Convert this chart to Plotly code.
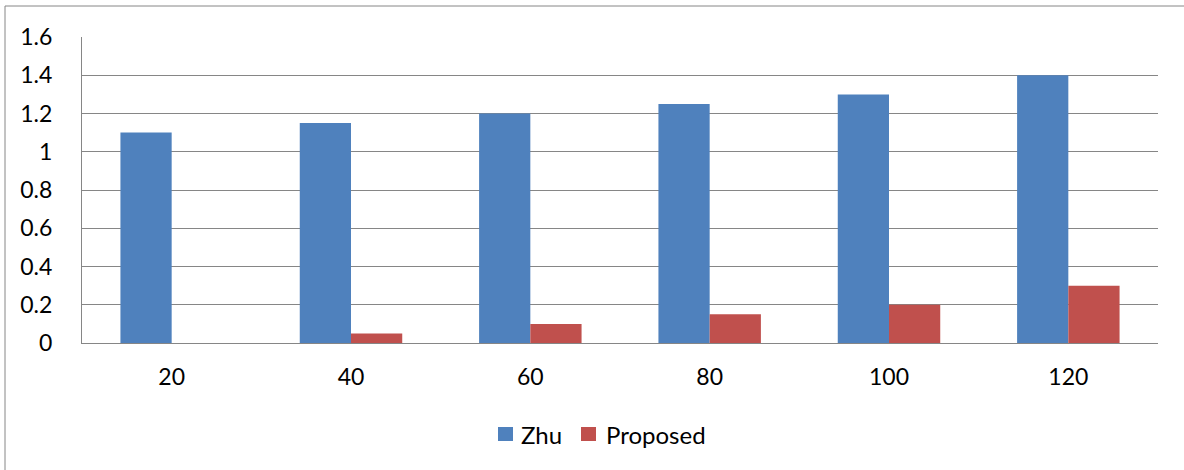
import plotly.graph_objects as go

categories = ["20", "40", "60", "80", "100", "120"]
zhu = [1.1, 1.15, 1.2, 1.25, 1.3, 1.4]
proposed = [0, 0.05, 0.1, 0.15, 0.2, 0.3]
series_names = ["Zhu", "Proposed"]
series_colors = ["#4F81BD", "#C0504D"]

W, H = 1184, 470
L, R, T, B = 82, 26, 37, 127
pw = W - L - R
ph = H - T - B

def px_x(x):
    return (x - L) / pw

def px_y(y):
    return (T + ph - y) / ph

fig = go.Figure()
for name, vals, col in zip(series_names, [zhu, proposed], series_colors):
    fig.add_trace(go.Bar(name=name, x=categories, y=vals, marker=dict(color=col, line=dict(width=0)),
                         showlegend=False))

font = dict(family="Lato, Carlito, Calibri, sans-serif", size=23, color="#000000")
lfont = dict(family="Lato, Carlito, Calibri, sans-serif", size=24, color="#000000")

border = dict(color="#868686", width=1)
shapes = [
    dict(type="line", xref="paper", yref="paper", x0=px_x(5), x1=px_x(W), y0=px_y(6), y1=px_y(6), line=border),
    dict(type="line", xref="paper", yref="paper", x0=px_x(5), x1=px_x(5), y0=px_y(6), y1=px_y(H), line=border),
]
annotations = []
legend_items = [(498, 519), (581, 604)]
for (sq_x, tx_x), name, col in zip(legend_items, series_names, series_colors):
    shapes.append(dict(type="rect", xref="paper", yref="paper",
                       x0=px_x(sq_x), x1=px_x(sq_x + 15), y0=px_y(441), y1=px_y(427),
                       line=dict(width=0), fillcolor=col))
    annotations.append(dict(xref="paper", yref="paper", x=px_x(tx_x), y=px_y(434),
                            xanchor="left", yanchor="middle", text=name, showarrow=False,
                            font=lfont))

fig.update_layout(
    width=W, height=H,
    margin=dict(l=L, r=R, t=T, b=B, pad=0),
    paper_bgcolor="white", plot_bgcolor="white",
    barmode="group", bargap=1.5 / 3.5, bargroupgap=0,
    font=font,
    showlegend=False,
    xaxis=dict(type="category", showgrid=False, showline=True, linecolor="#868686", linewidth=1,
               ticks="", tickfont=font, ticklabelstandoff=13),
    yaxis=dict(range=[0, 1.6], dtick=0.2, tick0=0, showgrid=True, gridcolor="#868686", gridwidth=1,
               showline=True, linecolor="#868686", linewidth=1, zeroline=False,
               ticks="", tickfont=font, ticklabelstandoff=24),
    shapes=shapes,
    annotations=annotations,
)

fig.write_html("out.html")
